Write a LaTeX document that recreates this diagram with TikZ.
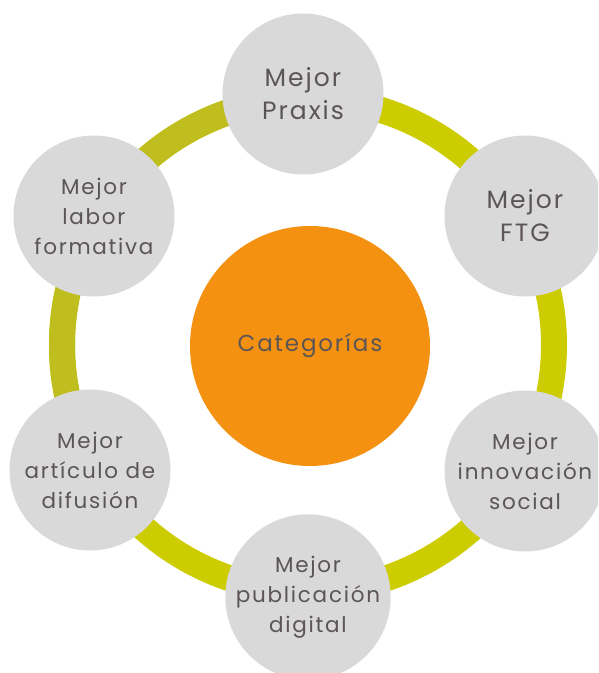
\documentclass[tikz,border=0pt]{standalone}
\usepackage{fontspec}
\setmainfont[LetterSpace=8]{Poppins}
\usetikzlibrary{positioning}
\definecolor{ringolive}{RGB}{191,190,30}
\definecolor{ringlime}{RGB}{204,204,0}
\definecolor{bubblegray}{RGB}{217,217,217}
\definecolor{huborange}{RGB}{244,145,16}
\definecolor{labeltext}{RGB}{92,85,85}
\tikzset {
  % the band that links the categories
  ring/.style = {
    line width = 26pt
  },
  % central node
  hub/.style = {
    circle,
    fill = huborange,
    minimum size = 240pt,
    inner sep = 0,
    text = labeltext,
    font = \fontsize{23}{26}\selectfont
  },
  % one award around the ring
  award/.style = {
    circle,
    fill = bubblegray,
    minimum size = 161pt,
    inner sep = 0,
    align = center,
    text = labeltext,
    font = \fontsize{21.5}{30}\selectfont
  },
  % award with a shorter name, set larger
  big award/.style = {
    award,
    font = \fontsize{25}{33}\selectfont
  }
}

\begin{document}
\begin{tikzpicture}[x=1pt, y=1pt]
    \clip (-308,-328) rectangle (290,345);
    \useasboundingbox (-308,-328) rectangle (290,345);

    \coordinate (centre) at (0,0);
    \draw[ring, ringlime] (centre) circle (246);
    \draw[ring, ringolive] (centre) ++(100:246) arc (100:212:246);

    \node[hub] (cat) at (2,-1) {Categorías};

    \node[big award] (praxis) at (-5,251) {Mejor\\Praxis};
    \node[big award] (ftg) at (217,129) {Mejor\\FTG};
    \node[award] (innov) at (217,-126) {Mejor\\innovación\\social};
    \node[award] (pub) at (0,-252) {Mejor\\publicación\\digital};
    \node[award] (art) at (-218,-125) {Mejor\\artículo de\\difusión};
    \node[award] (labor) at (-214,129) {Mejor\\labor\\formativa};
\end{tikzpicture}
\end{document}
